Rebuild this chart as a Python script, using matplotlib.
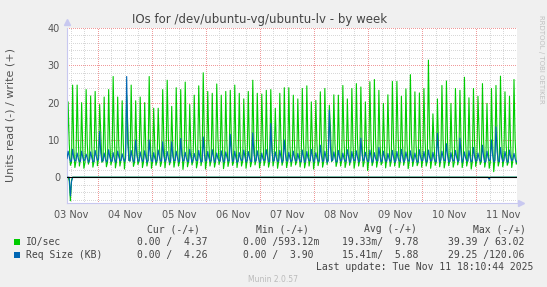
import matplotlib
matplotlib.use("Agg")
import matplotlib.pyplot as plt

# ---------------- data (30-minute samples starting 03 Nov 10:20) ----------------
start_hour = 10.333          # hours after 03 Nov 00:00
step_hour = 0.5
end_hour = 210.17            # 11 Nov 18:10

io_write = [
    4.5, 20.2, 9, 3.2,   4, 24.7, 8, 2.6,   4.3, 24.7, 10, 3,   4.8, 20, 7.5, 2.4,   4, 23.5, 9, 3.5,
    4.6, 21.8, 8, 2.7,   4.2, 23, 10.5, 3.1,   5, 19.5, 12, 4,   4.4, 21.5, 8, 2.8,   4, 23.5, 9.5, 3.3,
    4.5, 27, 11, 2.5,   4.2, 21.5, 8.5, 3,   4.7, 20.5, 9, 2.2,   5.5, 22, 14, 4.5,   4.3, 24.7, 9, 2.9,
    4, 20.5, 8, 3.4,   4.5, 21.5, 10, 2.6,   4.1, 20, 7.5, 3,   4.6, 27, 9.5, 2.4,   4.2, 18.5, 8, 3.2,
    4.4, 18.5, 9, 2.9,   4, 23.5, 10, 2.5,   4.8, 26, 11, 3.3,   4.3, 19, 8, 2.7,   4.5, 24, 9, 3,
    4.1, 23.5, 8.5, 2.1,   4.6, 25.5, 10, 2.8,   4.2, 19.5, 8, 3.3,   4.4, 22, 9.5, 2.5,   4, 24.5, 12, 3.1,
    4.7, 28, 10, 2.2,   4.3, 23, 9, 3,   4.5, 22.5, 8, 2.7,   4.1, 25, 11, 3.4,   4.6, 22, 8.5, 2.3,
    4.2, 23, 9, 2.9,   4.4, 23.3, 10, 3.2,   4, 24.7, 9, 2.6,   4.8, 22.5, 8, 3,   4.3, 21, 9.5, 2.4,
    4.5, 23, 8.5, 2.8,   4.1, 26, 10, 3.3,   4.6, 22.5, 9, 2.5,   4.2, 22.3, 11, 3.1,   4.4, 23.3, 8, 2.7,
    4, 23.5, 9.5, 3,   4.7, 18.5, 8, 2.4,   4.3, 22.5, 10, 3.2,   4.5, 24, 9, 2.6,   4.1, 24, 8.5, 2.9,
    4.6, 22, 9, 3.3,   4.2, 21, 8, 2.8,   4.4, 23.8, 10, 2.5,   4, 24.5, 9, 3,   4.8, 20.2, 8.5, 2.2,
    4.3, 20.6, 9, 3.1,   4.5, 22.9, 10, 2.7,   4.1, 23.8, 11, 3.4,   5, 19.3, 13, 4.2,   4.6, 22.1, 9, 2.9,
    4.2, 22, 8, 3,   4.4, 24.6, 10, 2.6,   4, 21, 8.5, 3.2,   4.7, 23.8, 9, 2.4,   4.3, 25.1, 10, 3,
    4.5, 24.2, 9.5, 2.8,   4.1, 20.2, 8, 1.8,   4.6, 25.6, 10, 3.1,   4.2, 26.2, 11, 2.7,   4.4, 23.3, 9, 3.3,
    4, 19.8, 8, 2.5,   4.8, 22.1, 9.5, 2.9,   4.3, 25.7, 10, 3,   4.5, 25.7, 12, 2.6,   4.1, 21.7, 8.5, 3.2,
    4.6, 23.7, 9, 2.3,   4.2, 27.5, 10, 2.9,   4.4, 22.9, 9, 3.1,   4, 22.6, 8.5, 2.7,   4.7, 23.8, 10, 3,
    4.3, 31.4, 12, 2.4,   4.5, 17, 9, 3.2,   4.1, 21, 8, 2.8,   4.6, 24.6, 10, 2.5,   4.2, 25.8, 9.5, 3.1,
    4.4, 19.8, 8, 2.7,   4, 23.8, 11, 3.3,   4.8, 23.3, 9, 2.6,   4.3, 26.8, 10, 3,   4.5, 21.3, 8.5, 2.2,
    4.1, 23.8, 9, 2.9,   4.6, 21.7, 12, 3.4,   4.2, 25.1, 10, 2.7,   4.4, 19.8, 8, 2.4,   4, 23.8, 9.5, 1.5,
    4.7, 24.6, 10, 3,   4.3, 27.1, 11, 2.8,   4.5, 22.9, 9, 3.2,   4.1, 21.7, 8.5, 2.6,   4.6, 26.2, 10, 3.5,
    4.4,
]

size_write = [
    5, 7, 5.5, 4.2,   4.4, 7.5, 5.2, 4.3,   4.6, 6.5, 5, 4.1,   4.3, 7, 5.4, 4.4,   4.7, 6.2, 5.1, 4,
    4.5, 6.8, 5.3, 4.2,   4.2, 7.2, 5.6, 4.5,   4.8, 12.3, 6.5, 4.3,   4.4, 6.5, 5, 4.1,   4.6, 7.4, 5.4, 4.3,
    4.3, 6.6, 5.1, 4,   4.7, 7, 5.5, 4.4,   4.5, 6.3, 5, 4.2,   5, 27, 9, 4.5,   4.4, 7.2, 5.3, 4.1,
    4.6, 10, 6, 4.3,   4.3, 6.8, 5.2, 4.2,   4.7, 7.1, 5.4, 4,   4.5, 10, 5.8, 4.4,   4.2, 6.6, 5.1, 4.1,
    4.6, 7.3, 5.5, 4.3,   4.4, 9.5, 5.7, 4.2,   4.8, 6.9, 5.2, 4,   4.3, 9.5, 5.6, 4.4,   4.5, 7, 5.3, 4.1,
    4.4, 10.4, 6, 4.3,   4.6, 6.7, 5.1, 4.2,   4.3, 7.5, 5.5, 4,   4.7, 6.4, 5, 4.4,   4.5, 7.2, 5.4, 4.1,
    4.2, 10.8, 6.2, 4.3,   4.6, 6.9, 5.2, 4.2,   4.4, 7.4, 5.5, 4,   4.8, 6.5, 5, 4.4,   4.3, 7.1, 5.3, 4.1,
    4.5, 6.8, 5.4, 4.3,   4.4, 11.5, 6.5, 4.2,   4.6, 7, 5.2, 4,   4.3, 6.6, 5.1, 4.4,   4.7, 7.3, 5.5, 4.1,
    4.5, 6.9, 5.3, 4.3,   4.2, 11.9, 6.4, 4.2,   4.6, 7.1, 5.2, 4,   4.4, 6.5, 5, 4.4,   4.8, 7.4, 5.6, 4.1,
    4.3, 14.4, 7, 4.3,   4.5, 6.8, 5.2, 4.2,   4.4, 7.2, 5.4, 4,   4.6, 10, 6, 4.4,   4.3, 6.7, 5.1, 4.1,
    4.7, 7, 5.3, 4.3,   4.5, 6.4, 5, 4.2,   4.2, 7.3, 5.5, 4,   4.6, 6.9, 5.2, 4.4,   4.4, 7.5, 5.6, 4.1,
    4.8, 6.6, 5.1, 4.3,   4.3, 8.6, 5.7, 4.2,   4.5, 7, 5.3, 4,   4.4, 18, 8, 4.4,   4.6, 6.8, 5.2, 4.1,
    4.3, 7.2, 5.4, 4.3,   4.7, 6.5, 5, 4.2,   4.5, 7.4, 5.6, 4,   4.2, 6.9, 5.2, 4.4,   4.6, 7.1, 5.3, 4.1,
    4.4, 10.5, 6.2, 4.3,   4.8, 6.7, 5.1, 4.2,   4.3, 7.3, 5.5, 4,   4.5, 6.6, 5.1, 4.4,   4.4, 8, 5.6, 4.1,
    4.6, 7, 5.3, 4.3,   4.3, 6.4, 5, 4.2,   4.7, 7.2, 5.4, 4,   4.5, 6.9, 5.2, 4.4,   4.2, 7.5, 5.6, 4.1,
    4.6, 6.8, 5.2, 4.3,   4.4, 7.1, 5.3, 4.2,   4.8, 6.5, 5, 4,   4.3, 7.4, 5.5, 4.4,   4.5, 6.9, 5.2, 4.1,
    4.4, 7.3, 5.4, 4.3,   4.6, 6.7, 5.1, 4.2,   4.3, 11.8, 6.5, 4,   4.7, 7, 5.3, 4.4,   4.5, 9, 5.8, 4.1,
    4.2, 6.6, 5.1, 4.3,   4.6, 7.2, 5.4, 4.2,   4.4, 10.5, 6.1, 4,   4.8, 6.8, 5.2, 4.4,   4.3, 7.1, 5.3, 4.1,
    4.5, 8, 5.5, 4.3,   4.4, 6.5, 5, 4.2,   4.6, 8.6, 5.6, 4,   4.3, 7, 5.2, 4.4,   4.7, 10, 6, 4.1,
    4.5, 13.5, 6.8, 4.3,   4.2, 8, 5.4, 4.2,   4.6, 6.9, 5.2, 4,   4.4, 7.3, 5.4, 4.4,   4.8, 6.4, 5, 4.1,
    4.3,
]

# read side (drawn negative); zero except for the few samples listed
io_read_dips = {2: -1.0, 3: -6.3, 4: -0.8}
size_read_dips = {3: -5.0, 4: -1.2, 375: -0.5}

day_labels = ["03 Nov", "04 Nov", "05 Nov", "06 Nov", "07 Nov",
              "08 Nov", "09 Nov", "10 Nov", "11 Nov"]

legend_names = ["IO/sec", "Req Size (KB)"]
legend_cur = ["0.00 /  4.37", "0.00 /  4.26"]
legend_min = ["0.00 /593.12m", "0.00 /  3.90"]
legend_avg = ["19.33m/  9.78", "15.41m/  5.88"]
legend_max = ["39.39 / 63.02", "29.25 /120.06"]

# ---------------- derived ----------------
n = len(io_write)
times = [start_hour + step_hour * i for i in range(n)]
io_read = [0.0] * n
for k, v in io_read_dips.items():
    io_read[k] = v
size_read = [0.0] * n
for k, v in size_read_dips.items():
    size_read[k] = v

GREEN = "#00CC00"
BLUE = "#0066B3"
BG = "#F0F0F0"
W, H = 547, 287

fig = plt.figure(figsize=(W / 100, H / 100), dpi=100, facecolor=BG)
L, R, T, B = 67, 517, 28, 203
ax = fig.add_axes([L / W, 1 - B / H, (R - L) / W, (B - T) / H])
ax.set_facecolor("white")
ax.set_xlim(start_hour, end_hour)
ax.set_ylim(-6.9, 40)

dot = (0, (1, 2))
# minor grid
for h in range(0, 216, 6):
    if h % 24 != 0 and start_hour < h < end_hour:
        ax.axvline(h, color="#D8D8D8", lw=0.72, ls=dot, zorder=0, antialiased=False)
for y in range(-6, 41, 2):
    if y % 10 != 0:
        ax.axhline(y, color="#D8D8D8", lw=0.72, ls=dot, zorder=0, antialiased=False)
# major grid
for h in range(24, 216, 24):
    if h < end_hour:
        ax.axvline(h, color="#F09A9A", lw=0.72, ls=dot, zorder=0.5, antialiased=False)
for y in range(10, 41, 10):
    ax.axhline(y, color="#F09A9A", lw=0.72, ls=dot, zorder=0.5, antialiased=False)

ax.plot(times, io_write, color=GREEN, lw=0.8, zorder=2)
ax.plot(times, io_read, color=GREEN, lw=0.8, zorder=2)
ax.plot(times, size_write, color=BLUE, lw=0.8, zorder=3)
ax.plot(times, size_read, color=BLUE, lw=0.8, zorder=3)
ax.axhline(0, color="black", lw=0.8, zorder=4)

for s in ["top", "right"]:
    ax.spines[s].set_visible(False)
for s in ["left", "bottom"]:
    ax.spines[s].set_color("#C8C8F0")
    ax.spines[s].set_linewidth(0.8)
ax.plot([0], [1.035], marker="^", ms=4, color="#C8C8F0", transform=ax.transAxes, clip_on=False)
ax.plot([1.008], [0], marker=">", ms=4, color="#C8C8F0", transform=ax.transAxes, clip_on=False)

ax.set_yticks([0, 10, 20, 30, 40])
ax.set_yticklabels(["0", "10", "20", "30", "40"])
label_pos = [12 + 24 * i for i in range(len(day_labels))]
ax.set_xticks(label_pos)
ax.set_xticklabels(day_labels)
ax.tick_params(axis="both", length=0, labelsize=7, labelcolor="#555555")
ax.tick_params(axis="y", pad=5)
ax.tick_params(axis="x", pad=5)

fig.text(11 / W, 1 - 115 / H, "Units read (-) / write (+)", rotation=90,
         ha="center", va="center", fontsize=8, color="#555555")

fig.text(260 / W, 1 - 19.5 / H, "IOs for /dev/ubuntu-vg/ubuntu-lv - by week",
         ha="center", va="center", fontsize=8.5, color="#444444")
fig.text(541 / W, 1 - 15 / H, "RRDTOOL / TOBI OETIKER", rotation=270,
         ha="center", va="top", fontsize=5, color="#C0C0C0")

mono = "DejaVu Sans Mono"
tc = "#444444"
def ftext(x, y, s, ha="left", **kw):
    fig.text(x / W, 1 - y / H, s, ha=ha, va="center", fontsize=7, family=mono, color=tc, **kw)

ftext(147.2, 229, "Cur (-/+)")
ftext(255.8, 229, "Min (-/+)")
ftext(364, 229, "Avg (-/+)")
ftext(472.8, 229, "Max (-/+)")
rows_y = [242.3, 255]
for i, (name, col) in enumerate(zip(legend_names, [GREEN, BLUE])):
    y = rows_y[i]
    fig.patches.append(plt.Rectangle((14 / W, 1 - (y + 3) / H), 6 / W, 6 / H,
                                     transform=fig.transFigure, facecolor=col, edgecolor="none"))
    ftext(26.2, y, name)
    ftext(137.1, y, legend_cur[i])
    ftext(243.2, y, legend_min[i])
    ftext(342, y, legend_avg[i])
    ftext(447.7, y, legend_max[i])
ftext(533, 266.8, "Last update: Tue Nov 11 18:10:44 2025", ha="right")
fig.text(273 / W, 1 - 280 / H, "Munin 2.0.57", ha="center", va="center",
         fontsize=5.5, color="#BBBBBB")

fig.savefig("out.png", dpi=100, facecolor=BG)
